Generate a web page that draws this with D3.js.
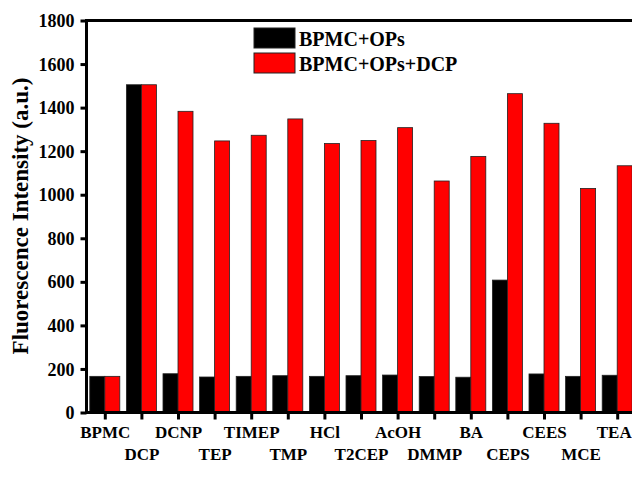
<!DOCTYPE html>
<html>
<head>
<meta charset="utf-8">
<script src="https://cdn.jsdelivr.net/npm/d3@7"></script>
<style>
  html, body { margin: 0; padding: 0; background: #fff; }
  svg { display: block; }
  text { font-family: "Liberation Serif", "Times New Roman", serif; font-weight: bold; fill: #000; }
</style>
</head>
<body>
<svg id="chart" width="632" height="479"></svg>
<script>
// Analytes tested
const categories = ["BPMC", "DCP", "DCNP", "TEP", "TIMEP", "TMP", "HCl", "T2CEP",
                    "AcOH", "DMMP", "BA", "CEPS", "CEES", "MCE", "TEA"];
// Series names
const seriesNames = ["BPMC+OPs", "BPMC+OPs+DCP"];
// Fluorescence intensity (a.u.)
const opsValues    = [166, 1505, 178, 163, 166, 169, 166, 169, 172, 165, 162, 608, 177, 166, 171];
const opsDcpValues = [166, 1505, 1383, 1247, 1273, 1348, 1235, 1249, 1308, 1063, 1176, 1464, 1328, 1029, 1133];
// Y axis ticks
const yTicks = [0, 200, 400, 600, 800, 1000, 1200, 1400, 1600, 1800];
const seriesColors = ["#000000", "#ff0000"];

const svg = d3.select("#chart");
const plotLeft = 86.5, plotRight = 635.5, plotTop = 20.5, plotBottom = 412.5;

const x = d3.scalePoint().domain(categories).range([plotLeft, plotRight]).padding(0.5);
const groupWidth = x.step() * 0.82;
const xs = d3.scaleBand().domain(seriesNames).range([-groupWidth / 2, groupWidth / 2]);
const y = d3.scaleLinear().domain([0, 1800]).range([plotBottom, plotTop]);
const color = d3.scaleOrdinal().domain(seriesNames).range(seriesColors);

const rows = categories.map((c, i) => ({
  cat: c,
  vals: [
    { s: seriesNames[0], v: opsValues[i] },
    { s: seriesNames[1], v: opsDcpValues[i] }
  ]
}));

// Bars
const groups = svg.append("g").selectAll("g").data(rows).join("g")
  .attr("transform", d => `translate(${x(d.cat)},0)`);
groups.selectAll("rect").data(d => d.vals).join("rect")
  .attr("x", d => xs(d.s))
  .attr("width", xs.bandwidth())
  .attr("y", d => y(d.v))
  .attr("height", d => y(0) - y(d.v))
  .attr("fill", d => color(d.s))
  .attr("stroke", "#222")
  .attr("stroke-width", 0.8);

// Frame (top and right edges)
svg.append("line").attr("x1", plotLeft).attr("x2", plotRight).attr("y1", plotTop).attr("y2", plotTop)
  .attr("stroke", "#000").attr("stroke-width", 3);
svg.append("line").attr("x1", plotRight).attr("x2", plotRight).attr("y1", plotTop).attr("y2", plotBottom)
  .attr("stroke", "#000").attr("stroke-width", 3);

// Y axis
const yAxis = svg.append("g").attr("transform", `translate(${plotLeft},0)`)
  .call(d3.axisLeft(y).tickValues(yTicks).tickSize(6).tickPadding(6).tickFormat(d3.format("d")));
yAxis.select(".domain").attr("stroke-width", 3).attr("d", `M0,${plotTop - 1.5}V${plotBottom + 1.5}`);
yAxis.selectAll(".tick line").attr("stroke-width", 3);
yAxis.selectAll(".tick text").attr("font-size", 18).attr("dy", "0.34em")
  .style("font-family", "'Liberation Serif', 'Times New Roman', serif").style("font-weight", "bold");

// X axis: category labels in two staggered rows so none overlap
const xAxis = svg.append("g").attr("transform", `translate(0,${plotBottom})`)
  .call(d3.axisBottom(x).tickSize(7).tickSizeOuter(0).tickPadding(0));
xAxis.select(".domain").attr("stroke-width", 3).attr("d", `M${plotLeft - 1.5},0H${plotRight}`);
xAxis.selectAll(".tick line").attr("stroke-width", 3);
xAxis.selectAll(".tick text")
  .attr("font-size", 17)
  .attr("text-anchor", "middle")
  .attr("dy", 0)
  .attr("y", (d, i) => (i % 2 === 0 ? 25 : 47))
  .style("font-family", "'Liberation Serif', 'Times New Roman', serif")
  .style("font-weight", "bold");
// keep the last label inside the drawing
xAxis.selectAll(".tick text").filter(d => d === categories[categories.length - 1])
  .attr("text-anchor", "end").attr("x", 14);

// Y axis title
svg.append("text")
  .attr("transform", `translate(28,${(73 + 359) / 2}) rotate(-90)`)
  .attr("text-anchor", "middle")
  .attr("font-size", 23)
  .text("Fluorescence Intensity (a.u.)");

// Legend
const legend = svg.append("g").selectAll("g").data(seriesNames).join("g")
  .attr("transform", (d, i) => `translate(254,${28 + i * 25})`);
legend.append("rect")
  .attr("width", 41).attr("height", 20)
  .attr("fill", d => color(d))
  .attr("stroke", "#222").attr("stroke-width", 1);
legend.append("text")
  .attr("x", 45).attr("y", 18)
  .attr("font-size", 20)
  .text(d => d);
</script>
</body>
</html>
